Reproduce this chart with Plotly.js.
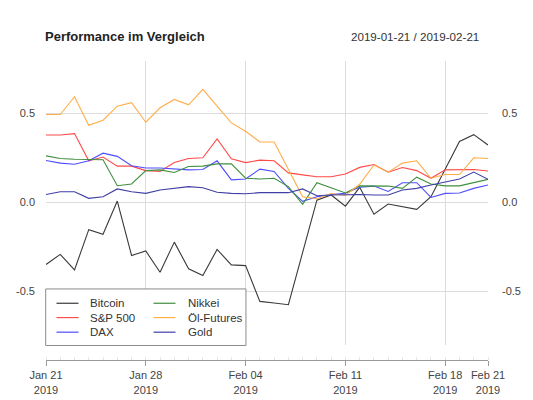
<!DOCTYPE html>
<html>
<head>
<meta charset="utf-8">
<script src="https://cdn.plot.ly/plotly-3.0.1.min.js"></script>
<style>html,body{margin:0;padding:0;background:#fff;}#chart{width:533px;height:400px;}</style>
</head>
<body>
<div id="chart"></div>
<script>
const dates = ['2019-01-21','2019-01-22','2019-01-23','2019-01-24','2019-01-25','2019-01-26','2019-01-27',
  '2019-01-28','2019-01-29','2019-01-30','2019-01-31','2019-02-01','2019-02-02','2019-02-03',
  '2019-02-04','2019-02-05','2019-02-06','2019-02-07','2019-02-08','2019-02-09','2019-02-10',
  '2019-02-11','2019-02-12','2019-02-13','2019-02-14','2019-02-15','2019-02-16','2019-02-17',
  '2019-02-18','2019-02-19','2019-02-20','2019-02-21'];

const bitcoin = [-0.351,-0.294,-0.381,-0.155,-0.181,0.006,-0.300,-0.275,-0.394,-0.225,-0.375,-0.413,-0.266,-0.353,
  -0.357,-0.558,-0.567,-0.577,-0.283,0.011,0.040,-0.023,0.083,-0.068,-0.011,-0.026,-0.041,0.030,0.185,0.341,0.379,0.321];
const sp500 = [0.377,0.377,0.385,0.232,0.253,0.202,0.202,0.177,0.172,0.222,0.245,0.249,0.355,0.243,
  0.222,0.236,0.232,0.164,0.153,0.142,0.142,0.158,0.195,0.211,0.168,0.194,0.177,0.134,0.181,0.181,0.183,0.175];
const dax = [0.234,0.219,0.213,0.232,0.275,0.257,0.204,0.192,0.192,0.185,0.181,0.183,0.232,0.125,
  0.130,0.185,0.172,0.077,0.004,0.030,0.043,0.050,0.083,0.090,0.060,0.109,0.109,0.026,0.049,0.051,0.077,0.096];
const nikkei = [0.260,0.245,0.241,0.238,0.238,0.092,0.102,0.177,0.181,0.166,0.200,0.202,0.215,0.215,
  0.134,0.130,0.134,0.087,-0.013,0.109,0.079,0.051,0.091,0.092,0.090,0.077,0.140,0.102,0.091,0.091,0.109,0.128];
const oil = [0.492,0.492,0.592,0.432,0.460,0.539,0.559,0.449,0.530,0.577,0.547,0.634,0.539,0.445,
  0.398,0.338,0.338,0.184,0.030,0.019,0.048,0.037,0.100,0.209,0.168,0.219,0.232,0.134,0.155,0.155,0.249,0.245];
const gold = [0.043,0.058,0.058,0.021,0.030,0.074,0.058,0.049,0.068,0.079,0.087,0.081,0.055,0.049,
  0.047,0.053,0.053,0.053,0.074,0.036,0.040,0.043,0.043,0.040,0.040,0.068,0.077,0.096,0.115,0.130,0.169,0.128];

const seriesNames = ['Bitcoin','S&P 500','DAX','Nikkei','Öl-Futures','Gold'];
const seriesValues = [bitcoin, sp500, dax, nikkei, oil, gold];
const seriesColors = ['#3a3a3a','#ff4a4a','#4d4dff','#3f8f3f','#ffad4a','#3f3fa6'];

const tickDates = ['2019-01-21','2019-01-28','2019-02-04','2019-02-11','2019-02-18','2019-02-21'];
const tickLabels = ['Jan 21<br>2019','Jan 28<br>2019','Feb 04<br>2019','Feb 11<br>2019','Feb 18<br>2019','Feb 21<br>2019'];
const yTickVals = [-0.5, 0, 0.5];
const yTickText = ['-0.5','0.0','0.5'];

const FONT = 'Liberation Sans, Arial, Helvetica, sans-serif';
const W = 533, H = 400;
const L = 45.5, R = 487.6, TOP = 61.2, BOT = 360, PLOTBOT = 345.5;
const px2x = p => (p - L) / (R - L);
const px2y = p => (BOT - p) / (BOT - TOP);

const traces = seriesNames.map((n, i) => ({
  type: 'scatter', mode: 'lines', name: n, x: dates, y: seriesValues[i],
  line: {color: seriesColors[i], width: 1.1}, showlegend: false, hoverinfo: 'skip'
}));

// manual legend (two columns, column-major like the reference)
const shapes = [{
  type: 'rect', xref: 'paper', yref: 'paper', layer: 'above',
  x0: px2x(45.2), x1: px2x(245.5), y0: px2y(345.5), y1: px2y(289),
  line: {color: '#8c8c8c', width: 1}, fillcolor: '#ffffff'
}];
const annotations = [];
const rowsY = [303.3, 317.6, 332.2];
const colLine = [[56, 78], [153, 175]];
const colText = [87.7, 185.3];
seriesNames.forEach((n, i) => {
  const c = Math.floor(i / 3), r = i % 3;
  shapes.push({type: 'line', xref: 'paper', yref: 'paper', layer: 'above',
    x0: px2x(colLine[c][0]), x1: px2x(colLine[c][1]), y0: px2y(rowsY[r]), y1: px2y(rowsY[r]),
    line: {color: seriesColors[i], width: 1.2}});
  annotations.push({xref: 'paper', yref: 'paper', x: px2x(colText[c]), y: px2y(rowsY[r]),
    xanchor: 'left', yanchor: 'middle', showarrow: false, text: n,
    font: {family: FONT, size: 11.5, color: '#333333'}});
});
annotations.push({xref: 'paper', yref: 'paper', x: px2x(481), y: px2y(36.7),
  xanchor: 'right', yanchor: 'middle', showarrow: false,
  text: dates[0] + ' / ' + dates[dates.length - 1],
  font: {family: FONT, size: 11.6, color: '#333333'}});

const yCommon = {
  range: [-0.806, 0.793], domain: [px2y(PLOTBOT), 1], tickmode: 'array',
  tickvals: yTickVals, ticktext: yTickText, zeroline: false, showline: false,
  ticks: '', tickfont: {family: FONT, size: 11, color: '#444444'}, fixedrange: true
};

const layout = {
  width: W, height: H,
  margin: {l: L, r: W - R, t: TOP, b: H - BOT, pad: 0},
  paper_bgcolor: '#ffffff', plot_bgcolor: 'rgba(0,0,0,0)',
  showlegend: false,
  title: {text: '<b>Performance im Vergleich</b>', x: 45 / W, xref: 'container', xanchor: 'left',
    y: 1 - 36.7 / H, yref: 'container', yanchor: 'middle',
    font: {family: FONT, size: 13, color: '#222222'}},
  xaxis: {
    type: 'date', range: [dates[0], dates[dates.length - 1]], anchor: 'free', position: 0,
    tickmode: 'array', tickvals: tickDates, ticktext: tickLabels,
    showgrid: true, gridcolor: '#dcdcdc', gridwidth: 1,
    showline: true, linecolor: '#9a9a9a', linewidth: 1,
    ticks: 'outside', ticklen: 5, tickcolor: '#9a9a9a', tickwidth: 1,
    minor: {ticks: 'inside', ticklen: 3, dtick: 86400000, tick0: dates[0], tickcolor: '#e6e6e6', showgrid: false},
    tickfont: {family: FONT, size: 11, color: '#444444'}, zeroline: false, fixedrange: true
  },
  yaxis: Object.assign({}, yCommon, {side: 'left', showgrid: true, gridcolor: '#dcdcdc', gridwidth: 1, ticklabelstandoff: 10}),
  yaxis2: Object.assign({}, yCommon, {side: 'right', overlaying: 'y', showgrid: false, anchor: 'x', ticklabelstandoff: 13}),
  shapes: shapes,
  annotations: annotations
};

// invisible trace on the right axis so that it is drawn
traces.push({type: 'scatter', mode: 'lines', x: dates, y: gold, yaxis: 'y2',
  line: {color: 'rgba(0,0,0,0)', width: 0}, showlegend: false, hoverinfo: 'skip'});

Plotly.newPlot('chart', traces, layout, {staticPlot: true, displayModeBar: false});
</script>
</body>
</html>
